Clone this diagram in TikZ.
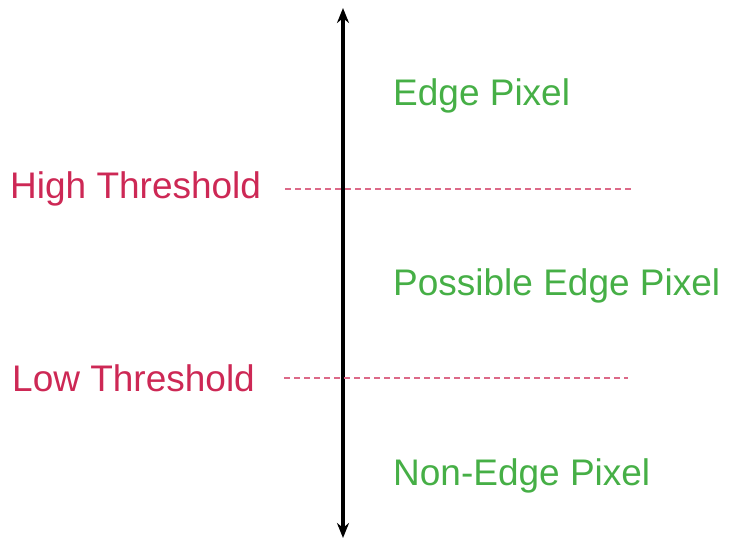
\documentclass[tikz,border=0pt]{standalone}
\usepackage{fontspec}
\setmainfont{Liberation Sans}
\usetikzlibrary{arrows.meta}
\definecolor{threshred}{RGB}{205,40,85}
\definecolor{pixgreen}{RGB}{70,175,70}
\tikzset{
  thresh/.style={text=threshred, anchor=west, inner sep=0pt, font=\fontsize{37}{40}\selectfont},
  pixlabel/.style={text=pixgreen, anchor=west, inner sep=0pt, font=\fontsize{37}{40}\selectfont},
  threshline/.style={threshred!70, line width=1.3pt, dash pattern=on 6pt off 4pt}
}
\begin{document}
\begin{tikzpicture}[x=1pt, y=-1pt]
  \useasboundingbox (0,0) rectangle (729,544);
  % value axis
  \coordinate (top) at (343,8);
  \coordinate (bot) at (343,538);
  \draw[line width=3.5pt, {Stealth[length=15pt,width=12pt]}-{Stealth[length=15pt,width=12pt]}] (bot) -- (top);
  % thresholds
  \node[thresh] (high) at (10,189) {High Threshold};
  \node[thresh] (low) at (12,378) {Low Threshold};
  \coordinate (highend) at (632,189);
  \coordinate (lowend) at (628,378);
  \draw[threshline] ([xshift=24pt]high.east) -- (highend);
  \draw[threshline] ([xshift=29pt]low.east) -- (lowend);
  % regions
  \node[pixlabel] (edge) at (393,96) {Edge Pixel};
  \node[pixlabel] (possible) at (393,286) {Possible Edge Pixel};
  \node[pixlabel] (nonedge) at (393,476) {Non-Edge Pixel};
\end{tikzpicture}
\end{document}
